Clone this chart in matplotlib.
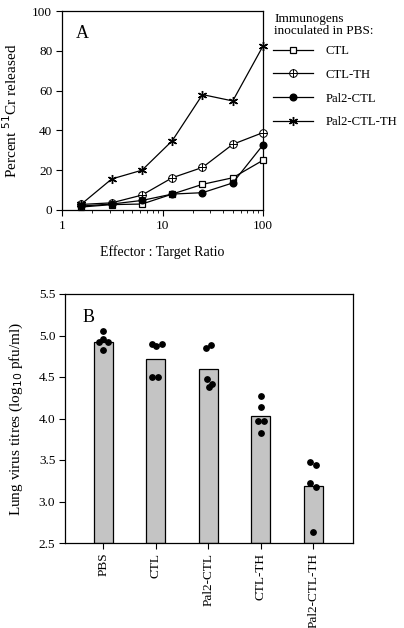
import matplotlib
matplotlib.use("Agg")
import matplotlib.pyplot as plt
from matplotlib.path import Path
from matplotlib.ticker import FixedLocator, FixedFormatter, LogLocator, NullFormatter
import numpy as np

plt.rcParams['font.family'] = ['Liberation Serif', 'DejaVu Serif']

# ---------------- Panel A data ----------------
et_ratio = [1.5625, 3.125, 6.25, 12.5, 25, 50, 100]
ctl = [1.5, 2.7, 3.0, 8.0, 12.9, 16.2, 25.0]
ctl_th = [2.8, 3.6, 7.5, 16.2, 21.4, 33.0, 38.9]
pal2_ctl = [2.0, 3.0, 4.8, 8.0, 8.7, 13.6, 32.7]
pal2_ctl_th = [3.0, 15.6, 20.0, 34.8, 58.0, 54.8, 82.4]
series_labels = ["CTL", "CTL-TH", "Pal2-CTL", "Pal2-CTL-TH"]

# ---------------- Panel B data ----------------
groups = ["PBS", "CTL", "Pal2-CTL", "CTL-TH", "Pal2-CTL-TH"]
group_means = [4.92, 4.72, 4.60, 4.03, 3.19]
pbs_vals = [5.05, 4.96, 4.92, 4.92, 4.82]
ctl_vals = [4.90, 4.87, 4.90, 4.50, 4.50]
pal2_ctl_vals = [4.85, 4.88, 4.48, 4.42, 4.38]
ctl_th_vals = [4.27, 4.14, 3.97, 3.97, 3.83]
pal2_ctl_th_vals = [3.47, 3.44, 3.22, 3.18, 2.63]
individual_vals = [pbs_vals, ctl_vals, pal2_ctl_vals, ctl_th_vals, pal2_ctl_th_vals]

# horizontal jitter of the dots (layout only)
dot_offsets = [
    [0.0, 0.0, -0.08, 0.09, 0.0],
    [-0.08, 0.01, 0.11, -0.07, 0.05],
    [-0.05, 0.06, -0.03, 0.08, 0.01],
    [0.0, 0.0, -0.06, 0.07, 0.0],
    [-0.06, 0.06, -0.06, 0.06, 0.0],
]

fig = plt.figure(figsize=(4.04, 6.28), dpi=100)

# circle with plus marker
circ = Path.unit_circle()
plus = Path([[-1, 0], [1, 0], [0, -1], [0, 1]],
            [Path.MOVETO, Path.LINETO, Path.MOVETO, Path.LINETO])
circ_plus = Path.make_compound_path(circ, plus)

axA = fig.add_axes([62/404, 1-210/628, 201/404, 199/628])
lw = 0.9
common = dict(color='black', lw=lw, clip_on=False, zorder=3)
axA.plot(et_ratio, ctl, marker='s', ms=4.8, mfc='white', mec='black',
         mew=0.9, label=series_labels[0], **common)
axA.plot(et_ratio, ctl_th, marker=circ_plus, ms=5.5, mfc='white',
         mec='black', mew=0.7, label=series_labels[1], **common)
axA.plot(et_ratio, pal2_ctl, marker='o', ms=4.8, mfc='black', mec='black',
         label=series_labels[2], **common)
axA.plot(et_ratio, pal2_ctl_th, marker=(6, 2, 0), ms=6.5, mec='black',
         mew=1.0, label=series_labels[3], **common)

axA.set_xscale('log')
axA.set_xlim(1, 100)
axA.set_ylim(0, 100)
axA.xaxis.set_major_locator(FixedLocator([1, 10, 100]))
axA.xaxis.set_major_formatter(FixedFormatter(["1", "10", "100"]))
axA.xaxis.set_minor_locator(LogLocator(base=10, subs=np.arange(2, 10)))
axA.xaxis.set_minor_formatter(NullFormatter())
axA.set_yticks([0, 20, 40, 60, 80, 100])
axA.tick_params(axis='both', which='major', direction='out', length=4,
                width=0.8, labelsize=9.5, pad=3)
axA.tick_params(axis='x', which='minor', direction='out', length=2.5, width=0.6)
for s in axA.spines.values():
    s.set_linewidth(0.9)
axA.set_xlabel("Effector : Target Ratio", fontsize=10, labelpad=10)
axA.set_ylabel("Percent $^{51}$Cr released", fontsize=11, labelpad=9)
axA.text(0.07, 0.93, "A", transform=axA.transAxes, fontsize=13,
         ha='left', va='top')

fig.text(274/404, 1-13/628, "Immunogens\ninoculated in PBS:", fontsize=9.5,
         ha='left', va='top', linespacing=1.0)
leg = axA.legend(loc='upper left', bbox_to_anchor=(273/404, 1-45/628),
                 bbox_transform=fig.transFigure, frameon=False, fontsize=9.2,
                 handlelength=3.1, labelspacing=0.92, handletextpad=1.0,
                 borderaxespad=0.0, borderpad=0.0)

# ---------------- Panel B ----------------
axB = fig.add_axes([65/404, 1-543/628, 288/404, 249/628])
xpos = np.arange(len(groups))
axB.bar(xpos, [m - 2.5 for m in group_means], bottom=2.5, width=0.36,
        color='#c4c4c4', edgecolor='black', linewidth=0.9, zorder=2)
for i, vals in enumerate(individual_vals):
    axB.scatter(xpos[i] + np.array(dot_offsets[i]), vals, s=15,
                color='black', zorder=3)
axB.set_xlim(-0.73, 4.76)
axB.set_ylim(2.5, 5.5)
axB.set_yticks([2.5, 3.0, 3.5, 4.0, 4.5, 5.0, 5.5])
axB.set_yticklabels(["2.5", "3.0", "3.5", "4.0", "4.5", "5.0", "5.5"])
axB.set_xticks(xpos)
axB.set_xticklabels(groups, rotation=90, fontsize=9.5)
axB.tick_params(axis='both', direction='out', length=4, width=0.8,
                labelsize=9.5, pad=3)
for s in axB.spines.values():
    s.set_linewidth(0.9)
axB.set_ylabel("Lung virus titres (log$_{10}$ pfu/ml)", fontsize=11, labelpad=10)
axB.text(0.06, 0.94, "B", transform=axB.transAxes, fontsize=13,
         ha='left', va='top')

fig.savefig("out.png", dpi=100)
